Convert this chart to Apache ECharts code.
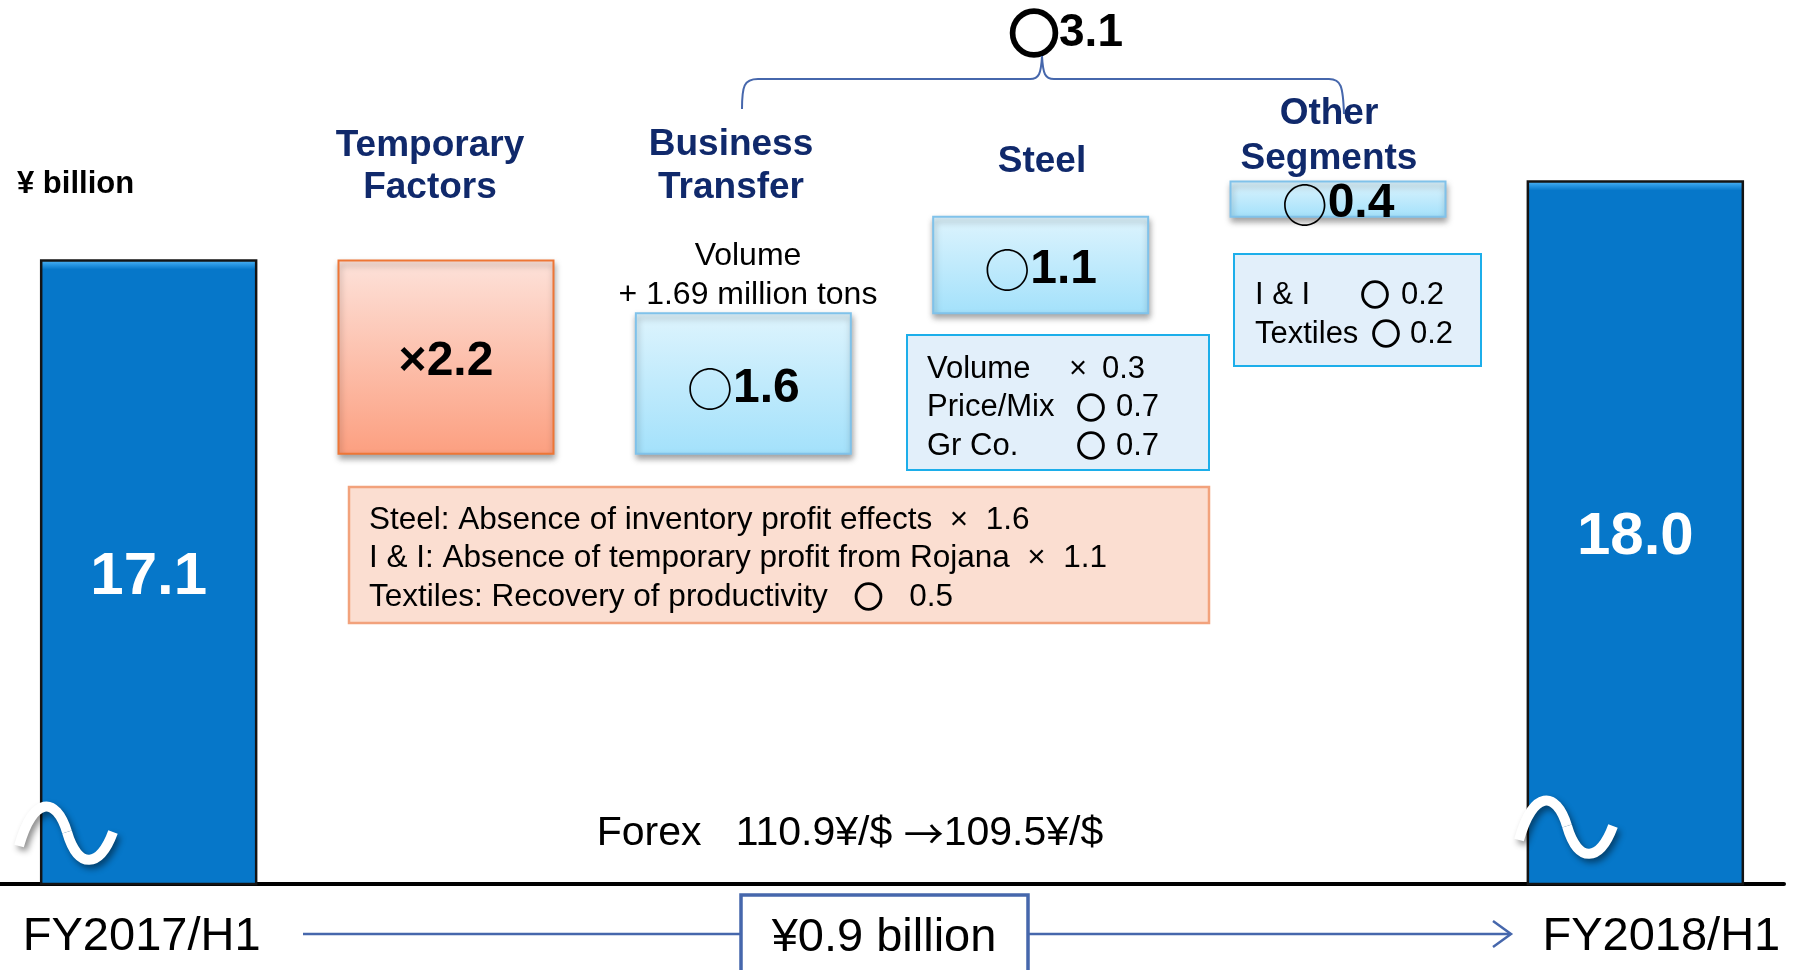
<!DOCTYPE html>
<html><head><meta charset="utf-8">
<script src="https://cdn.jsdelivr.net/npm/echarts@6/dist/echarts.min.js"></script>
<style>html,body{margin:0;padding:0;background:#fff;}#c{width:1795px;height:970px;}</style>
</head><body><div id="c"></div>
<script>
// ---------------- data ----------------
const categories = ['FY2017/H1', 'Temporary Factors', 'Business Transfer', 'Steel', 'Other Segments', 'FY2018/H1'];
const totals = [17.1, 18.0];            // start, end (¥ billion)
const changes = [-2.2, 1.6, 1.1, 0.4];  // waterfall steps
const axisFloor = 10;                   // broken-axis floor
const axisCeil = 20;
const segmentSum = '3.1';
const unitLabel = '¥ billion';
const volumeNote = ['Volume', '+ 1.69 million tons'];
const steelBreakdown = [['Volume', '×', '0.3'], ['Price/Mix', '○', '0.7'], ['Gr Co.', '○', '0.7']];
const otherBreakdown = [['I & I', '○', '0.2'], ['Textiles', '○', '0.2']];
const temporaryBreakdown = [
  ['Steel: Absence of inventory profit effects', '×', '1.6'],
  ['I & I: Absence of temporary profit from Rojana', '×', '1.1'],
  ['Textiles: Recovery of productivity', '○', '0.5']
];
const forexNote = 'Forex   110.9¥/$ →109.5¥/$';
const netChange = '¥0.9 billion';

// ---------------- build waterfall ----------------
const items = [];
let level = totals[0];
items.push([0, axisFloor, totals[0], 'total', totals[0]]);
changes.forEach((c, k) => {
  const next = +(level + c).toFixed(1);
  items.push([k + 1, Math.min(level, next), Math.max(level, next), c < 0 ? 'neg' : 'pos', c]);
  level = next;
});
items.push([categories.length - 1, axisFloor, totals[1], 'total', totals[1]]);

const FONT = "'Liberation Sans', Arial, Helvetica, sans-serif";
const CJK = "'Noto Sans CJK JP', 'Noto Sans CJK SC', sans-serif";
const NAVY = '#10296B';
const LINE_BLUE = '#4667AC';

function renderItem(params, api) {
  const it = items[params.dataIndex];
  const top = api.coord([it[0], it[2]]);
  const bot = api.coord([it[0], it[1]]);
  const bw = api.size([1, 0])[0] * 0.723;
  const h = bot[1] - top[1];
  const shape = { x: top[0] - bw / 2, y: top[1], width: bw, height: h };
  let style, label;
  if (it[3] === 'total') {
    const b = 10 / h;
    style = {
      fill: new echarts.graphic.LinearGradient(0, 0, 0, 1, [
        { offset: 0, color: '#5CBCF6' }, { offset: b * 0.5, color: '#2A98E4' },
        { offset: b, color: '#0677C9' }, { offset: 1, color: '#0677C9' }]),
      stroke: '#141414', lineWidth: 2.5
    };
    label = { text: it[4].toFixed(1), fill: '#fff', fontSize: 60, fontWeight: 'bold', fontFamily: FONT };
  } else {
    const neg = it[3] === 'neg';
    style = {
      fill: new echarts.graphic.LinearGradient(0, 0, 0, 1, neg
        ? [{ offset: 0, color: '#FDE2DA' }, { offset: 1, color: '#FC9F80' }]
        : [{ offset: 0, color: '#DEF4FD' }, { offset: 1, color: '#A3E1FB' }]),
      stroke: neg ? '#EE7636' : '#80C2EA', lineWidth: 2,
      shadowBlur: 6, shadowOffsetX: 1, shadowOffsetY: 4, shadowColor: 'rgba(0,0,0,0.35)'
    };
    label = {
      text: (neg ? '{x|×}' : '{o|○}') + '{v|' + Math.abs(it[4]).toFixed(1) + '}',
      rich: {
        x: { fontSize: 48, fontWeight: 'bold', fontFamily: FONT, fill: '#000' },
        o: { fontSize: 46, fontFamily: CJK, fill: '#000' },
        v: { fontSize: 48, fontWeight: 'bold', fontFamily: FONT, fill: '#000' }
      }
    };
  }
  return { type: 'rect', shape, style, textContent: { style: label }, textConfig: { position: 'inside', offset: [0, 5] } };
}

// ---------------- graphics ----------------
const G = [];
const TY = 3; // baseline nudge for text
function txt(x, y, text, st, align) {
  G.push({ type: 'text', x, y: y + TY, z: 100, style: Object.assign({
    text, fontFamily: FONT, fill: '#000',
    align: align || 'left', textAlign: align || 'left', verticalAlign: 'middle', textVerticalAlign: 'middle'
  }, st) });
}
function line(x1, y1, x2, y2, stroke, w) {
  G.push({ type: 'line', z: 100, shape: { x1, y1, x2, y2 }, style: { stroke, lineWidth: w } });
}
function bez(p, stroke, w, extra) {
  G.push({ type: 'bezierCurve', z: 100, shape: { x1: p[0], y1: p[1], cpx1: p[2], cpy1: p[3], cpx2: p[4], cpy2: p[5], x2: p[6], y2: p[7] },
    style: Object.assign({ stroke, lineWidth: w, fill: null }, extra || {}) });
}
const ringStyle = { fontSize: 29, fontFamily: CJK, fontWeight: 'bold', fill: '#000', stroke: '#000', lineWidth: 1.6 };

// unit
txt(17, 181, unitLabel, { fontSize: 31, fontWeight: 'bold' });

// top sum + brace
txt(1066, 30, '{o|○}{v|' + segmentSum + '}', {
  rich: { o: { fontSize: 50, fontWeight: 'bold', fontFamily: CJK, fill: '#000', stroke: '#000', lineWidth: 3.5 },
          v: { fontSize: 46, fontWeight: 'bold', fontFamily: FONT, fill: '#000' } }
}, 'center');
bez([742, 109, 742, 86, 744, 79, 758, 79], LINE_BLUE, 2);
line(758, 79, 1030, 79, LINE_BLUE, 2);
bez([1030, 79, 1039, 79, 1041, 74, 1042, 56], LINE_BLUE, 2);
bez([1042, 56, 1043, 74, 1045, 79, 1054, 79], LINE_BLUE, 2);
line(1054, 79, 1329, 79, LINE_BLUE, 2);
bez([1329, 79, 1341, 79, 1343, 86, 1344, 114], LINE_BLUE, 2);

// category headers
const headerPos = [null, [430, 164, 42], [731, 163.5, 43], [1042, 159, 42], [1329, 133.5, 45], null];
categories.forEach((c, i) => {
  const p = headerPos[i];
  if (!p) return;
  txt(p[0], p[1], c.split(' ').join('\n'), { fontSize: 37, fontWeight: 'bold', fill: NAVY, lineHeight: p[2] }, 'center');
});

// business transfer note
txt(748, 272.5, volumeNote.join('\n'), { fontSize: 32, lineHeight: 39 }, 'center');

// steel breakdown box
G.push({ type: 'rect', z: 99, shape: { x: 907, y: 335, width: 302, height: 135 }, style: { fill: '#E2EFFA', stroke: '#1CAEEA', lineWidth: 2 } });
steelBreakdown.forEach((r, i) => {
  const y = 366 + i * 38.5;
  txt(927, y, r[0], { fontSize: 31 });
  const isO = r[1] === '○';
  if (isO) txt(1091, y, '{o|○}', { rich: { o: ringStyle } }, 'center');
  else txt(1078, y, r[1], { fontSize: 31 }, 'center');
  txt(isO ? 1116 : 1102, y, r[2], { fontSize: 31 });
});

// other segments breakdown box
G.push({ type: 'rect', z: 99, shape: { x: 1234, y: 254, width: 247, height: 112 }, style: { fill: '#E2EFFA', stroke: '#1CAEEA', lineWidth: 2 } });
const otherCols = [[1375, 1401], [1386, 1410]];
otherBreakdown.forEach((r, i) => {
  const y = 292 + i * 39;
  txt(1255, y, r[0], { fontSize: 31 });
  txt(otherCols[i][0], y, '{o|○}', { rich: { o: ringStyle } }, 'center');
  txt(otherCols[i][1], y, r[2], { fontSize: 31 });
});

// temporary factors breakdown box
G.push({ type: 'rect', z: 99, shape: { x: 349, y: 487, width: 860, height: 136 }, style: { fill: '#FBDED1', stroke: '#F2A27C', lineWidth: 2.5 } });
temporaryBreakdown.forEach((r, i) => {
  const y = 517 + i * 38.5;
  const isO = r[1] === '○';
  const t = '{t|' + r[0] + (isO ? '   ' : '  ') + '}' + (isO ? '{o|○}' : '{t|×}') + '{t|' + (isO ? '   ' : '  ') + r[2] + '}';
  txt(369, y, t, { rich: {
    t: { fontSize: 31.5, fontFamily: FONT, fill: '#000' },
    o: ringStyle } });
});

// forex
const fx = forexNote.split('→');
txt(850, 831, '{t|' + fx[0] + '}{a|→}{t|' + fx[1] + '}', { rich: {
  t: { fontSize: 41, fontFamily: FONT, fill: '#000' },
  a: { fontSize: 40, fontFamily: CJK, fill: '#000' } } }, 'center');

// axis break squiggles
const sq = { lineCap: 'butt', shadowBlur: 6, shadowOffsetX: 3, shadowOffsetY: 4, shadowColor: 'rgba(0,0,0,0.45)' };
function squiggle(dx, dy) {
  bez([19 + dx, 846 + dy, 33 + dx, 796 + dy, 56 + dx, 796 + dy, 67 + dx, 832 + dy], '#fff', 10, sq);
  bez([67 + dx, 832 + dy, 78 + dx, 870 + dy, 100 + dx, 868 + dy, 113 + dx, 832 + dy], '#fff', 10, sq);
}
squiggle(0, 0);
squiggle(1500, -6);

// bottom arrow with net change box
line(303, 934, 741, 934, LINE_BLUE, 2.5);
G.push({ type: 'rect', z: 100, shape: { x: 741, y: 895, width: 287, height: 110 }, style: { fill: '#fff', stroke: LINE_BLUE, lineWidth: 3.5 } });
txt(884, 935, netChange, { fontSize: 47 }, 'center');
line(1028, 934, 1510, 934, LINE_BLUE, 2.5);
G.push({ type: 'polyline', z: 100, shape: { points: [[1493, 921], [1511, 934], [1493, 947]] }, style: { stroke: LINE_BLUE, lineWidth: 2.5, fill: null } });

// ---------------- chart ----------------
const chart = echarts.init(document.getElementById('c'));
chart.setOption({
  animation: false,
  backgroundColor: '#fff',
  grid: { left: 0, right: 11, top: 6, bottom: 86, containLabel: false },
  xAxis: {
    type: 'category',
    data: categories.map((c, i) => i === 0 ? { value: c, textStyle: { padding: [0, 14, 0, 0] } }
      : i === categories.length - 1 ? { value: c, textStyle: { padding: [0, 0, 0, 52] } } : c),
    axisLine: { lineStyle: { color: '#000', width: 4 } },
    axisTick: { show: false },
    axisLabel: {
      interval: 0, margin: 30, fontSize: 47, color: '#000', fontFamily: FONT,
      formatter: (v, i) => (i === 0 || i === categories.length - 1) ? v : ''
    },
    splitLine: { show: false }
  },
  yAxis: { type: 'value', min: axisFloor, max: axisCeil, show: false, splitLine: { show: false } },
  series: [{
    type: 'custom',
    renderItem,
    encode: { x: 0, y: [1, 2] },
    data: items.map(it => [it[0], it[1], it[2]]),
    z: 5
  }],
  graphic: { elements: G }
});
</script>
</body></html>
